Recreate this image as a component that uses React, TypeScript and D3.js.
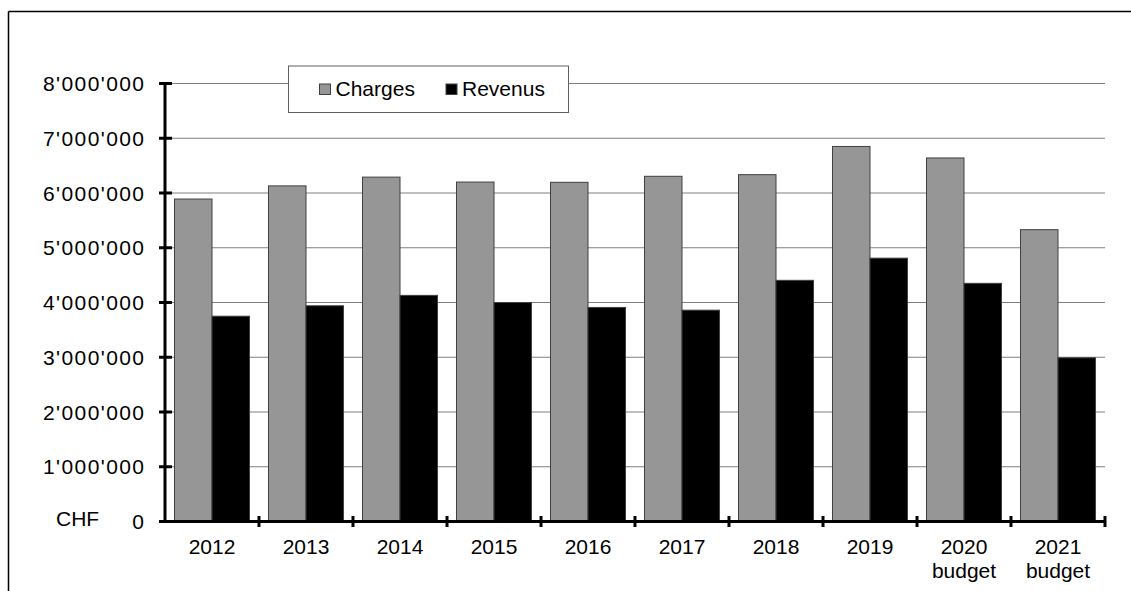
import React from "react";
import * as d3 from "d3";

const categories = ["2012", "2013", "2014", "2015", "2016", "2017", "2018", "2019", "2020 budget", "2021 budget"];
const seriesNames = ["Charges", "Revenus"];
const charges = [5890000, 6130000, 6290000, 6200000, 6195000, 6305000, 6335000, 6850000, 6640000, 5330000];
const revenus = [3750000, 3940000, 4130000, 4000000, 3910000, 3860000, 4405000, 4810000, 4350000, 2990000];
const yTicks = [0, 1000000, 2000000, 3000000, 4000000, 5000000, 6000000, 7000000, 8000000];
const seriesColors = ["#969696", "#000000"];

const W = 1131;
const H = 591;
const FONT = "'Liberation Sans', Arial, sans-serif";

function fmt(v: number): string {
  if (v === 0) return "0";
  return d3.format(",")(v).replace(/,/g, "'");
}

export default function App() {
  const x = d3.scaleBand<string>().domain(categories).range([165, 1105]).paddingInner(0).paddingOuter(0);
  const x1 = d3.scaleBand<string>().domain(seriesNames).range([0, x.bandwidth()]).paddingInner(0).paddingOuter(0.253);
  const y = d3.scaleLinear().domain([0, 8000000]).range([521.5, 83.5]);
  const values = [charges, revenus];
  const x0 = 165;
  const xEnd = 1105;
  const boundaries = categories.map((c) => (x(c) as number) + x.bandwidth());

  return (
    <svg width={W} height={H} style={{ position: "absolute", left: 0, top: 0 }} fontFamily={FONT}>
      <rect x={0} y={0} width={W} height={H} fill="#fff" />
      {/* outer frame */}
      <line x1={8.5} y1={11.5} x2={W} y2={11.5} stroke="#000" strokeWidth={1.5} />
      <line x1={8.5} y1={11.5} x2={8.5} y2={H} stroke="#000" strokeWidth={1.5} />

      {/* gridlines */}
      {yTicks.filter((t) => t > 0).map((t) => (
        <line key={"g" + t} x1={x0} x2={xEnd} y1={y(t)} y2={y(t)} stroke="#808080" strokeWidth={1} />
      ))}

      {/* bars */}
      {categories.map((c, i) => (
        <g key={c} transform={`translate(${x(c)},0)`}>
          {seriesNames.map((s, si) => {
            const v = values[si][i];
            return (
              <rect
                key={s}
                x={x1(s)}
                y={y(v)}
                width={x1.bandwidth()}
                height={y(0) - y(v)}
                fill={seriesColors[si]}
                stroke="#404040"
                strokeWidth={1}
              />
            );
          })}
        </g>
      ))}

      {/* legend */}
      <rect x={288.5} y={66} width={280} height={46.5} fill="#fff" stroke="#606060" strokeWidth={1} />
      {seriesNames.map((s, si) => {
        const lx = si === 0 ? 319.5 : 446;
        return (
          <g key={"l" + s}>
            <rect x={lx} y={84} width={11} height={10.5} fill={seriesColors[si]} stroke="#404040" strokeWidth={1} />
            <text x={lx + 16} y={96} fontSize={21} fill="#000">{s}</text>
          </g>
        );
      })}

      {/* y axis */}
      <line x1={x0} x2={x0} y1={y(8000000) - 1} y2={y(0) + 1.5} stroke="#000" strokeWidth={3} />
      {yTicks.map((t) => (
        <g key={"t" + t}>
          <line x1={159} x2={172} y1={y(t)} y2={y(t)} stroke="#000" strokeWidth={3} />
          <text
            x={144}
            y={y(t)}
            dy="0.36em"
            textAnchor="end"
            fontSize={21}
            fill="#000"
            {...(t > 0 ? { textLength: 101, lengthAdjust: "spacing" } : {})}
          >
            {fmt(t)}
          </text>
        </g>
      ))}
      <text x={56} y={526} fontSize={21} fill="#000">CHF</text>

      {/* x axis */}
      <line x1={x0 - 1.5} x2={xEnd + 1} y1={y(0)} y2={y(0)} stroke="#000" strokeWidth={3} />
      {boundaries.map((b, i) => (
        <line key={"xt" + i} x1={b} x2={b} y1={516} y2={527} stroke="#000" strokeWidth={3} />
      ))}
      {categories.map((c) => {
        const parts = c.split(" ");
        const cx = (x(c) as number) + x.bandwidth() / 2;
        return (
          <text key={"xl" + c} x={cx} y={554} textAnchor="middle" fontSize={21} fill="#000">
            {parts.map((p, pi) => (
              <tspan key={pi} x={cx} dy={pi === 0 ? 0 : 23.5}>{p}</tspan>
            ))}
          </text>
        );
      })}
    </svg>
  );
}
